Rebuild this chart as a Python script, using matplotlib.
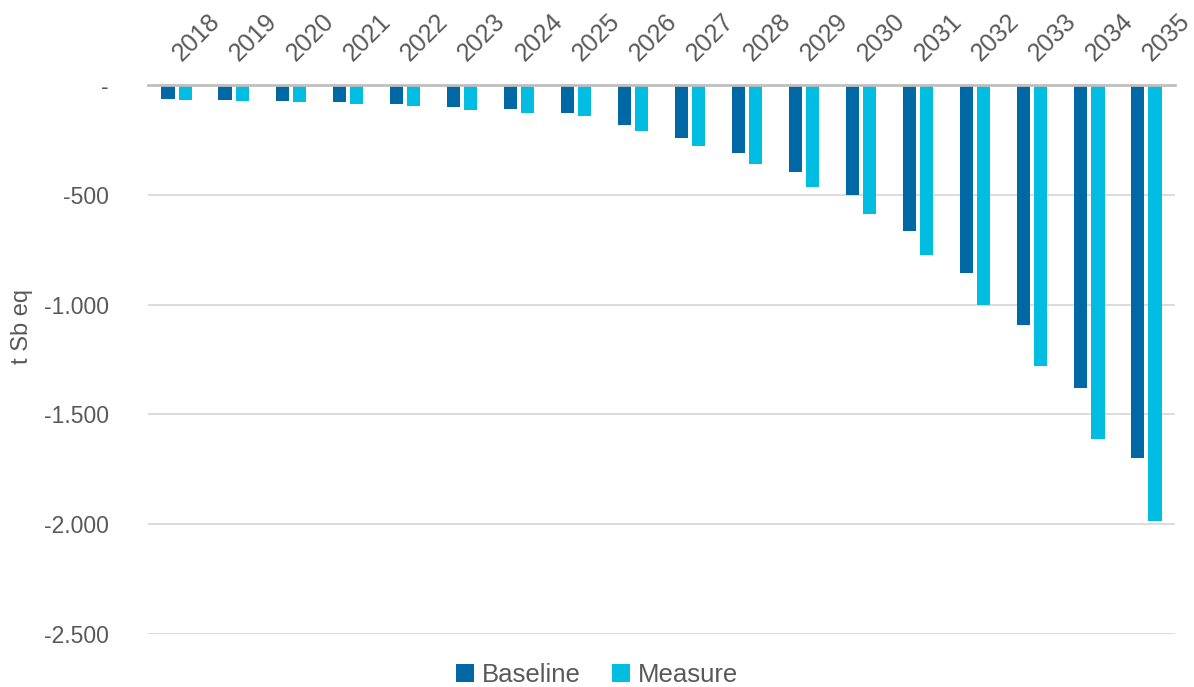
import numpy as np
import matplotlib.pyplot as plt
from matplotlib.transforms import ScaledTranslation

plt.rcParams['font.family'] = ['Liberation Sans', 'DejaVu Sans']

# values (t Sb eq)
years = [str(y) for y in range(2018, 2036)]
baseline = [-65, -70, -74, -79, -88, -100, -108, -126, -181, -240,
            -310, -396, -501, -664, -857, -1094, -1382, -1700]
measure = [-67, -71, -79, -88, -95, -112, -126, -142, -211, -280,
           -362, -464, -588, -775, -1001, -1278, -1610, -1986]
yticks = [0, -500, -1000, -1500, -2000, -2500]
ytick_labels = ['-', '-500', '-1.000', '-1.500', '-2.000', '-2.500']

c_base = '#0069A5'
c_meas = '#00BDE1'
grey = '#595959'

fig = plt.figure(figsize=(11.94, 6.87), dpi=100)
ax = fig.add_axes([148/1194, 1 - 634/687, (1175-148)/1194, (634-85)/687])

x = np.arange(len(years))
w = 0.23
ax.bar(x - 0.15, baseline, w, color=c_base, label='Baseline', zorder=3)
ax.bar(x + 0.15, measure, w, color=c_meas, label='Measure', zorder=3)

ax.set_xlim(-0.5, len(years) - 0.5)
ax.set_ylim(-2500, 0)
ax.set_yticks(yticks)
ax.set_yticklabels(ytick_labels)
ax.yaxis.grid(True, color='#D9D9D9', linewidth=1.3, zorder=0)
ax.set_axisbelow(True)

for s in ['left', 'right', 'bottom']:
    ax.spines[s].set_visible(False)
ax.spines['top'].set_color('#BFBFBF')
ax.spines['top'].set_linewidth(2)
ax.spines['top'].set_zorder(4)

ax.xaxis.set_ticks_position('top')
ax.set_xticks(x)
ax.set_xticklabels(years, rotation=45, ha='left', va='bottom')
ax.tick_params(axis='x', length=0, pad=14, labelsize=18, labelcolor=grey)
ax.tick_params(axis='y', length=0, pad=28, labelsize=16.5, labelcolor=grey)
shift = ScaledTranslation(-8/100, 0, fig.dpi_scale_trans)
for lab in ax.get_xticklabels():
    lab.set_transform(lab.get_transform() + shift)

ax.set_ylabel('t Sb eq', fontsize=17, color=grey)
ax.yaxis.set_label_coords(-0.112, 0.56)

ax.legend(loc='center', bbox_to_anchor=(597/1194, 1 - 675/687),
          bbox_transform=fig.transFigure, ncol=2, frameon=False,
          fontsize=18.5, labelcolor=grey, handlelength=0.7, handleheight=0.7,
          handletextpad=0.3, columnspacing=1.2)

fig.savefig('out.png', dpi=100)
